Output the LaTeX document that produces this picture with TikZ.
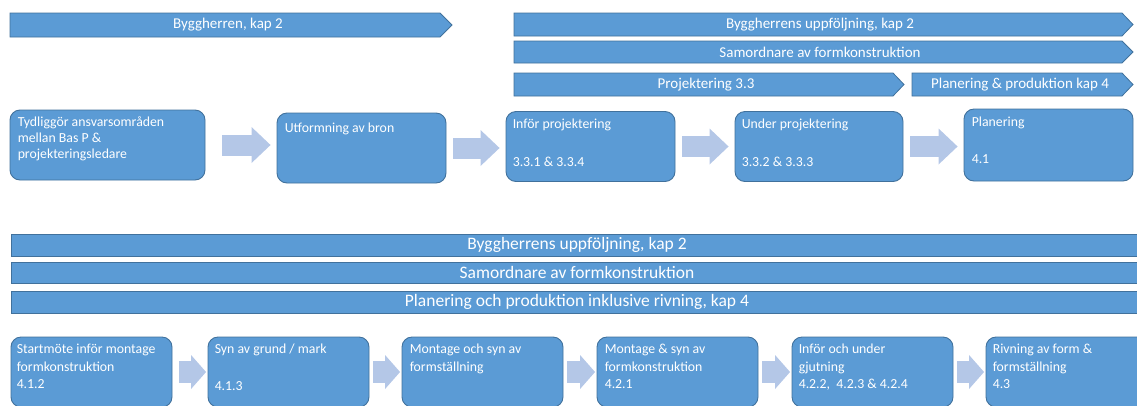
\documentclass[tikz,border=0pt]{standalone}
\usepackage{fontspec}
\setmainfont{Carlito}
\usetikzlibrary{calc}
\usetikzlibrary{arrows.meta}

\definecolor{boxblue}{HTML}{5B9BD5}
\definecolor{boxline}{HTML}{41719C}
\definecolor{flowblue}{HTML}{B4C7E7}

\tikzset{
  barshape/.style={draw=boxline,fill=boxblue,line width=0.8pt},
  bartext/.style={text=white,inner sep=0pt,font=\fontsize{15}{18}\selectfont},
  bigbartext/.style={text=white,inner sep=0pt,font=\fontsize{17.5}{20}\selectfont},
  box/.style={draw=boxline,fill=boxblue,line width=0.9pt,rounded corners=10pt,
    minimum width=169pt,minimum height=70pt,inner sep=0pt},
  smallbox/.style={box,minimum width=161pt},
  % the strut fixes the first baseline below the node's north edge
  boxtext/.style={text=white,inner sep=0pt,align=left,anchor=north west,
    execute at begin node=\strut,font=\fontsize{13.8}{16}\selectfont},
  lowtext/.style={boxtext,font=\fontsize{13.8}{17.5}\selectfont},
  flow/.style={draw=flowblue,line width=21pt,shorten <=7pt,shorten >=6pt,
    -{Triangle[length=19pt,width=36pt,line width=0pt]}},
  lowflow/.style={draw=flowblue,line width=22pt,shorten <=4pt,shorten >=1.5pt,
    -{Triangle[length=15pt,width=34pt,line width=0pt]}}
}

\begin{document}
\begin{tikzpicture}[x=1pt,y=-1pt]
  \useasboundingbox (0,0) rectangle (1137,405);
  \clip (0,0) rectangle (1137,405);

  % Top bars
  \draw[barshape] (10,13) -- (440,13) -- (452,25) -- (440,37) -- (10,37) -- cycle;
  \node[bartext] (h1) at (228,25) {Byggherren, kap 2};
  \draw[barshape] (514,13) -- (1122,13) -- (1133,24.5) -- (1122,36) -- (514,36) -- cycle;
  \node[bartext] (h2) at (820,24.5) {Byggherrens uppföljning, kap 2};
  \draw[barshape] (514,41) -- (1122,41) -- (1133,52) -- (1122,63) -- (514,63) -- cycle;
  \node[bartext] (h3) at (820,52) {Samordnare av formkonstruktion};
  \draw[barshape] (514,73) -- (893,73) -- (904,84.5) -- (893,96) -- (514,96) -- cycle;
  \node[bartext] (h4) at (706,84.5) {Projektering 3.3};
  \draw[barshape] (912,73) -- (1122,73) -- (1133,84.5) -- (1122,96) -- (912,96) -- cycle;
  \node[bartext] (h5) at (1020,84.5) {Planering \& produktion kap 4};

  % Top boxes
  \node[box,minimum width=195pt] (b1) at (107.5,145) {};
  \node[box] (b2) at (361.5,148) {};
  \node[box] (b3) at (590.5,146.5) {};
  \node[box,minimum width=168pt] (b4) at (819,146.5) {};
  \node[box,minimum height=72pt] (b5) at (1048.5,145) {};

  \node[boxtext] (t1) at ($(b1.north west)+(8,6.5)$)
    {Tydliggör ansvarsområden\\mellan Bas P \&\\projekteringsledare};
  \node[boxtext] (t2) at ($(b2.north west)+(8,8.5)$) {Utformning av bron};
  \node[boxtext] (t3) at ($(b3.north west)+(7,7.8)$) {Inför projektering\\[22pt]3.3.1 \& 3.3.4};
  \node[boxtext] (t4) at ($(b4.north west)+(7,7.8)$) {Under projektering\\[22pt]3.3.2 \& 3.3.3};
  \node[boxtext] (t5) at ($(b5.north west)+(8,8.5)$) {Planering\\[21pt]4.1};

  % Top flow arrows
  \draw[flow,shorten <=17pt] (b1.east) -- (b1.east -| b2.west);
  \draw[flow] (b2.east) -- (b2.east -| b3.west);
  \draw[flow] (b3.east) -- (b3.east -| b4.west);
  \draw[flow] (b4.east) -- (b4.east -| b5.west);

  % Bottom bars
  \draw[barshape] (11,234) rectangle (1150,256);
  \node[bigbartext] (g1) at (577,245) {Byggherrens uppföljning, kap 2};
  \draw[barshape] (11,262) rectangle (1150,283);
  \node[bigbartext] (g2) at (577,272.5) {Samordnare av formkonstruktion};
  \draw[barshape] (11,291) rectangle (1150,313);
  \node[bigbartext] (g3) at (577,302) {Planering och produktion inklusive rivning, kap 4};

  % Bottom boxes
  \node[smallbox] (c1) at (91.5,372) {};
  \node[smallbox] (c2) at (288.5,372) {};
  \node[smallbox] (c3) at (482.5,372) {};
  \node[smallbox] (c4) at (677.5,372) {};
  \node[smallbox] (c5) at (872.5,372) {};
  \node[smallbox] (c6) at (1066.5,372) {};

  \node[lowtext] (s1) at ($(c1.north west)+(6,7.5)$) {Startmöte inför montage\\formkonstruktion\\4.1.2};
  \node[lowtext] (s2) at ($(c2.north west)+(7,7.5)$) {Syn av grund / mark\\[19pt]4.1.3};
  \node[lowtext] (s3) at ($(c3.north west)+(8,7.5)$) {Montage och syn av\\formställning};
  \node[lowtext] (s4) at ($(c4.north west)+(8,7.5)$) {Montage \& syn av\\formkonstruktion\\4.2.1};
  \node[lowtext] (s5) at ($(c5.north west)+(7,7.5)$) {Inför och under\\gjutning\\4.2.2,~ 4.2.3 \& 4.2.4};
  \node[lowtext] (s6) at ($(c6.north west)+(7,7.5)$) {Rivning av form \&\\formställning\\4.3};

  % Bottom flow arrows
  \draw[lowflow,shorten <=7pt] (c1.east) -- (c2.west);
  \draw[lowflow] (c2.east) -- (c3.west);
  \draw[lowflow] (c3.east) -- (c4.west);
  \draw[lowflow] (c4.east) -- (c5.west);
  \draw[lowflow] (c5.east) -- (c6.west);
\end{tikzpicture}
\end{document}
